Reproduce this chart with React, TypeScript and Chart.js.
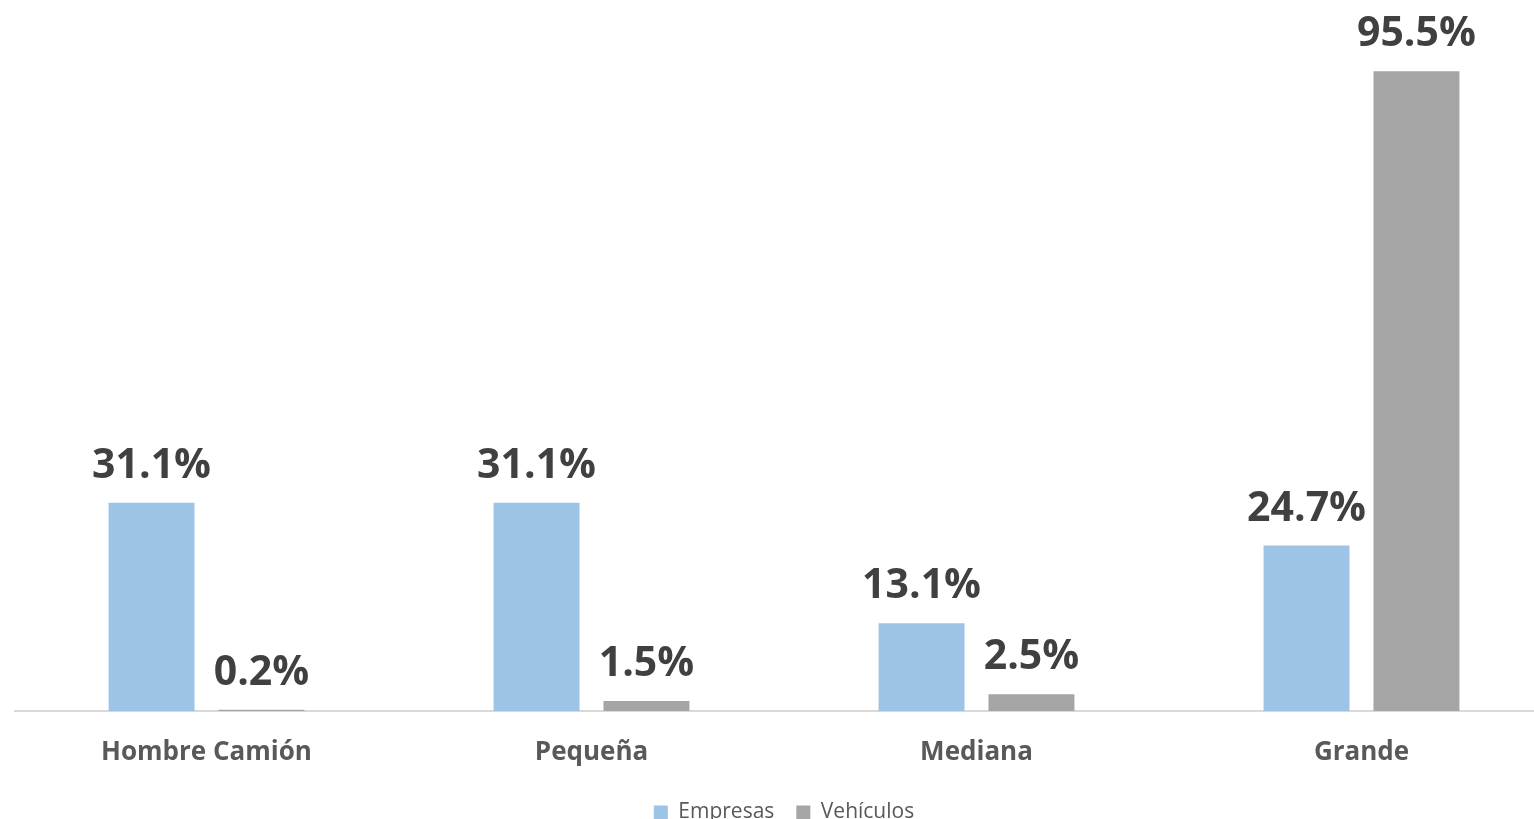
import React, { useEffect, useRef } from "react";
import { Chart, registerables } from "chart.js";

Chart.register(...registerables);

const categories = ["Hombre Camión", "Pequeña", "Mediana", "Grande"];
const empresas = [31.1, 31.1, 13.1, 24.7];
const vehiculos = [0.2, 1.5, 2.5, 95.5];
const seriesNames = ["Empresas", "Vehículos"];

const FONT = "'Open Sans', 'Noto Sans', sans-serif";

const labelPlugin = {
  id: "barValueLabels",
  afterDatasetsDraw(chart: any) {
    const ctx = chart.ctx;
    ctx.save();
    ctx.font = `bold 41px ${FONT}`;
    ctx.fillStyle = "#404040";
    ctx.textAlign = "center";
    ctx.textBaseline = "alphabetic";
    chart.data.datasets.forEach((ds: any, i: number) => {
      const meta = chart.getDatasetMeta(i);
      meta.data.forEach((bar: any, j: number) => {
        const v = ds.data[j];
        ctx.fillText(v.toFixed(1) + "%", bar.x, bar.y - 25);
      });
    });
    ctx.restore();
  },
};

export default function App() {
  const ref = useRef<HTMLCanvasElement>(null);
  useEffect(() => {
    const canvas = ref.current!;
    const chart = new Chart(canvas, {
      type: "bar",
      data: {
        labels: categories,
        datasets: [
          {
            label: seriesNames[0],
            data: empresas,
            backgroundColor: "#9DC3E6",
            barPercentage: 0.782,
            categoryPercentage: 0.571,
          },
          {
            label: seriesNames[1],
            data: vehiculos,
            backgroundColor: "#A5A5A5",
            barPercentage: 0.782,
            categoryPercentage: 0.571,
          },
        ],
      },
      options: {
        responsive: false,
        animation: false,
        devicePixelRatio: 1,
        layout: { padding: { top: 41, left: 0, right: 0, bottom: 0 } },
        plugins: {
          legend: {
            position: "bottom",
            labels: {
              font: { family: FONT, size: 21 },
              color: "#595959",
              boxWidth: 14,
              boxHeight: 14,
              padding: 22,
            },
          },
          tooltip: { enabled: false },
        },
        scales: {
          x: {
            grid: { display: false, drawTicks: false },
            border: { display: true, color: "#D9D9D9", width: 2 },
            ticks: {
              font: { family: FONT, size: 26, weight: "bold" },
              color: "#595959",
              padding: 26,
            },
            afterFit(scale: any) {
              scale.height = 69;
            },
          },
          y: {
            display: false,
            min: 0,
            max: 100,
          },
        },
      },
      plugins: [labelPlugin],
    });
    return () => chart.destroy();
  }, []);
  return (
    <div
      style={{
        position: "fixed",
        left: 0,
        top: 0,
        width: 1534,
        height: 819,
        overflow: "hidden",
        background: "#fff",
      }}
    >
      <canvas
        ref={ref}
        width={1540}
        height={833}
        style={{ position: "absolute", left: 14, top: 0, width: 1540, height: 833 }}
      />
    </div>
  );
}
